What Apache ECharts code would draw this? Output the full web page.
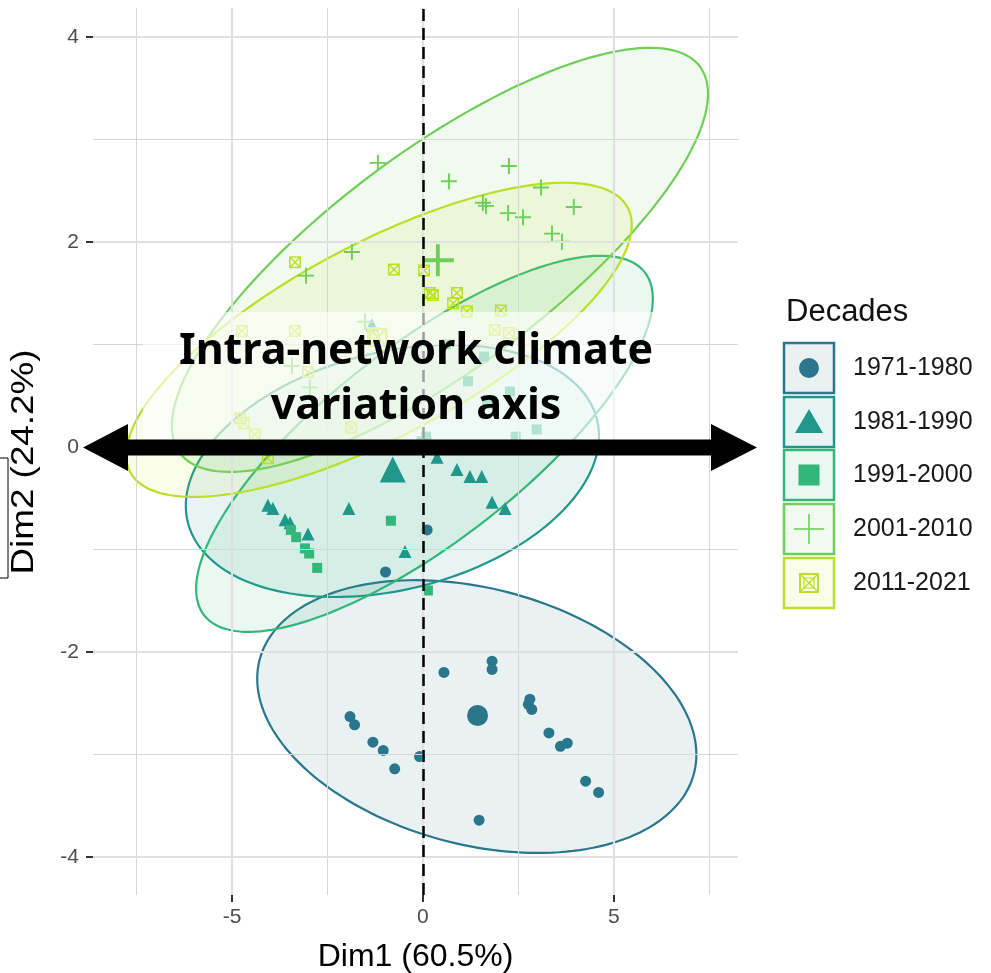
<!DOCTYPE html>
<html><head><meta charset="utf-8">
<script src="https://cdn.jsdelivr.net/npm/echarts@6/dist/echarts.min.js"></script>
<style>html,body{margin:0;padding:0;background:#fff}#c{width:991px;height:973px}</style>
</head><body><div id="c"></div>
<script>
// ---------- data ----------
const decades = ['1971-1980', '1981-1990', '1991-2000', '2001-2010', '2011-2021'];
const colors = ['#2A768C', '#1F978A', '#33B67A', '#6ECE58', '#BADF26'];

const x1971 = [-0.98, 0.11, 1.81, 1.81, 0.55, 2.80, 2.76, 2.85, -1.91, -1.79, -1.31, -1.04, -0.74, -0.09, 3.30, 3.60, 3.78, 4.26, 4.60, 1.47];
const y1971 = [-1.22, -0.81, -2.09, -2.17, -2.20, -2.46, -2.51, -2.56, -2.63, -2.71, -2.88, -2.96, -3.14, -3.02, -2.79, -2.92, -2.89, -3.26, -3.37, -3.64];

const x1981 = [-4.06, -3.93, -3.61, -3.48, -3.01, -1.94, -0.47, 0.37, 0.89, 1.23, 1.54, 1.81, 2.15, -1.34];
const y1981 = [-0.57, -0.60, -0.71, -0.74, -0.85, -0.60, -1.02, -0.10, -0.22, -0.29, -0.29, -0.54, -0.60, 1.19];

const x1991 = [-3.46, -3.32, -3.09, -2.98, -2.77, -0.84, 0.13, 0.60, 1.60, 1.18, 2.28, 1.68, 2.98, 2.43, 0.08];
const y1991 = [-0.81, -0.88, -0.99, -1.04, -1.18, -0.72, -1.40, 1.00, 0.88, 0.64, 0.54, 0.42, 0.17, 0.10, 0.10];

const x2001 = [-1.18, 0.68, 2.25, 3.09, 3.95, 1.57, 1.65, 2.23, 2.62, 3.38, 3.64, -1.86, -3.06, -1.52, -3.43, -2.96];
const y2001 = [2.77, 2.59, 2.74, 2.53, 2.34, 2.38, 2.35, 2.28, 2.24, 2.08, 2.00, 1.90, 1.67, 1.22, 0.79, 0.58];

const x2011 = [-3.35, -0.76, 0.03, 0.18, 0.26, 0.89, 0.79, 1.15, 2.04, 1.88, 2.25, -4.74, -3.35, -1.31, -3.01, -4.79, -4.69, -4.40, -4.06, -1.88];
const y2011 = [1.80, 1.73, 1.72, 1.50, 1.48, 1.50, 1.40, 1.32, 1.33, 1.14, 1.11, 1.13, 1.13, 1.11, 0.73, 0.28, 0.23, 0.12, -0.11, 0.19];

// group mean points (large markers)
const centroidX = [1.43, -0.79, 0.03, 0.39, -1.18];
const centroidY = [-2.62, -0.22, 0.03, 1.82, 1.07];

// confidence ellipses: centre, half-width (x), half-height (y), y-offset of the rightmost point
const ellCx = [1.41, -0.80, 0.04, 0.445, -1.152];
const ellCy = [-2.63, -0.234, 0.03, 1.824, 1.044];
const ellHalfW = [5.75, 5.41, 5.98, 7.02, 6.62];
const ellHalfH = [1.33, 1.23, 1.834, 2.068, 1.532];
const ellTilt = [-0.37, 0.34, 1.415, 1.62, 1.122];

const xTicks = [-5, 0, 5];
const xMinor = [-7.5, -2.5, 2.5, 7.5];
const yTicks = [-4, -2, 0, 2, 4];
const yMinor = [-3, -1, 1, 3];

const xTitle = 'Dim1 (60.5%)';
const yTitle = 'Dim2 (24.2%)';
const legendTitle = 'Decades';
const annotationLines = ['Intra-network climate', 'variation axis'];

// ---------- helpers ----------
function rgba(hex, a) {
  const n = parseInt(hex.slice(1), 16);
  return 'rgba(' + (n >> 16 & 255) + ',' + (n >> 8 & 255) + ',' + (n & 255) + ',' + a + ')';
}
function zip(xs, ys) { return xs.map((v, i) => [v, ys[i]]); }

const plusPath = 'path://M4.4,0 L5.6,0 L5.6,4.4 L10,4.4 L10,5.6 L5.6,5.6 L5.6,10 L4.4,10 L4.4,5.6 L0,5.6 L0,4.4 L4.4,4.4 Z';
const boxPath = 'path://M0,0 L12,0 L12,12 L0,12 Z M1.5,1.5 L1.5,10.5 L10.5,10.5 L10.5,1.5 Z ' +
  'M1.5,1.5 L2.5,1.5 L10.5,9.5 L10.5,10.5 L9.5,10.5 L1.5,2.5 Z ' +
  'M10.5,1.5 L10.5,2.5 L2.5,10.5 L1.5,10.5 L1.5,9.5 L9.5,1.5 Z';

const groupX = [x1971, x1981, x1991, x2001, x2011];
const groupY = [y1971, y1981, y1991, y2001, y2011];
const symbols = ['circle', 'triangle', 'rect', plusPath, boxPath];
const sizes = [11, 13, 10, 16, 12];
const bigSizes = [21, 26, 15, 32, 19];

const chart = echarts.init(document.getElementById('c'), null, { renderer: 'canvas' });

const series = [];
// grid lines
const gridMarks = [];
xMinor.forEach(v => gridMarks.push({ xAxis: v, lineStyle: { color: '#d6d6d6', width: 1, type: 'solid' } }));
yMinor.forEach(v => gridMarks.push({ yAxis: v, lineStyle: { color: '#d6d6d6', width: 1, type: 'solid' } }));
xTicks.forEach(v => gridMarks.push({ xAxis: v, lineStyle: { color: '#e0e0e0', width: 2.2, type: 'solid' } }));
yTicks.forEach(v => gridMarks.push({ yAxis: v, lineStyle: { color: '#e0e0e0', width: 2.2, type: 'solid' } }));
series.push({
  type: 'scatter', data: [], z: 0, silent: true,
  markLine: { symbol: ['none', 'none'], silent: true, animation: false, label: { show: false },
    lineStyle: { type: 'solid' }, emphasis: { disabled: true }, data: gridMarks }
});
// ellipses
for (let g = 0; g < 5; g++) {
  series.push({
    type: 'custom', z: 1, silent: true,
    data: [[ellCx[g], ellCy[g]]],
    renderItem: function (params, api) {
      const cx = api.value(0), cy = api.value(1);
      const W = ellHalfW[g], H = ellHalfH[g], c = ellTilt[g];
      const d = Math.sqrt(Math.max(H * H - c * c, 0));
      const pts = [];
      for (let k = 0; k < 180; k++) {
        const t = k / 180 * Math.PI * 2;
        pts.push(api.coord([cx + W * Math.cos(t), cy + c * Math.cos(t) + d * Math.sin(t)]));
      }
      return { type: 'polygon', shape: { points: pts },
        style: { fill: rgba(colors[g], 0.1), stroke: colors[g], lineWidth: 2.2 } };
    }
  });
}
// zero reference lines
series.push({
  type: 'scatter', data: [], z: 2, silent: true,
  markLine: { symbol: ['none', 'none'], silent: true, animation: false, label: { show: false },
    lineStyle: { color: '#000', width: 2.5, type: [12, 7] }, emphasis: { disabled: true },
    data: [{ xAxis: 0 }, { yAxis: 0 }] }
});
// points
for (let g = 0; g < 5; g++) {
  series.push({
    type: 'scatter', name: decades[g], z: 3, symbol: symbols[g], symbolSize: sizes[g],
    itemStyle: { color: colors[g], opacity: 1 },
    data: zip(groupX[g], groupY[g])
  });
  series.push({
    type: 'scatter', name: decades[g] + ' mean', z: 3, symbol: symbols[g], symbolSize: bigSizes[g],
    itemStyle: { color: colors[g], opacity: 1 },
    data: [[centroidX[g], centroidY[g]]]
  });
}

// ---------- overlay graphics ----------
const FONT = '"Liberation Sans", Arial, sans-serif';
const graphics = [];
graphics.push({ type: 'rect', z: 50, shape: { x: 143, y: 312, width: 512, height: 128 }, style: { fill: 'rgba(255,255,255,0.62)' } });
graphics.push({ type: 'polygon', z: 51, shape: { points: [[83, 447.5], [128, 424], [128, 439.5], [711, 439.5], [711, 424], [757, 447.5], [711, 471], [711, 455.5], [128, 455.5], [128, 471]] }, style: { fill: '#000' } });
graphics.push({ type: 'text', z: 52, x: 416, y: 352, style: { text: annotationLines[0], font: 'bold 43px "Noto Sans", "Open Sans", sans-serif', fill: '#000', textAlign: 'center', textVerticalAlign: 'middle' } });
graphics.push({ type: 'text', z: 52, x: 416, y: 407, style: { text: annotationLines[1], font: 'bold 43px "Noto Sans", "Open Sans", sans-serif', fill: '#000', textAlign: 'center', textVerticalAlign: 'middle' } });
graphics.push({ type: 'rect', z: 50, shape: { x: -6, y: 458, width: 14, height: 120 }, style: { fill: 'none', stroke: '#000', lineWidth: 1 } });
// y axis title (stretched along its reading direction like the source)
graphics.push({ type: 'text', z: 50, x: 24, y: 462, rotation: Math.PI / 2, scaleX: 1.15, scaleY: 1,
  style: { text: yTitle, font: '32px ' + FONT, fill: '#000', textAlign: 'center', textVerticalAlign: 'middle' } });

// legend
graphics.push({ type: 'text', z: 50, x: 786, y: 312, style: { text: legendTitle, font: '31px ' + FONT, fill: '#111', textVerticalAlign: 'middle' } });
const keyTop = [343, 397, 450, 504, 558];
for (let g = 0; g < 5; g++) {
  const y0 = keyTop[g], cx = 809, cy = y0 + 25;
  graphics.push({ type: 'rect', z: 50, shape: { x: 784, y: y0, width: 50, height: 50 }, style: { fill: rgba(colors[g], 0.1), stroke: colors[g], lineWidth: 2.5 } });
  if (g === 0) graphics.push({ type: 'circle', z: 51, shape: { cx: cx, cy: cy, r: 10 }, style: { fill: colors[g] } });
  if (g === 1) graphics.push({ type: 'polygon', z: 51, shape: { points: [[cx, cy - 13], [cx + 14, cy + 11], [cx - 14, cy + 11]] }, style: { fill: colors[g] } });
  if (g === 2) graphics.push({ type: 'rect', z: 51, shape: { x: cx - 10.5, y: cy - 10.5, width: 21, height: 21 }, style: { fill: colors[g] } });
  if (g === 3) {
    graphics.push({ type: 'line', z: 51, shape: { x1: cx - 15, y1: cy, x2: cx + 15, y2: cy }, style: { stroke: colors[g], lineWidth: 1.6 } });
    graphics.push({ type: 'line', z: 51, shape: { x1: cx, y1: cy - 15, x2: cx, y2: cy + 15 }, style: { stroke: colors[g], lineWidth: 1.6 } });
  }
  if (g === 4) {
    graphics.push({ type: 'rect', z: 51, shape: { x: cx - 9, y: cy - 9, width: 18, height: 18 }, style: { fill: 'none', stroke: colors[g], lineWidth: 2 } });
    graphics.push({ type: 'rect', z: 51, shape: { x: cx - 5, y: cy - 5, width: 10, height: 10 }, style: { fill: 'none', stroke: colors[g], lineWidth: 1.2 } });
    graphics.push({ type: 'line', z: 51, shape: { x1: cx - 9, y1: cy - 9, x2: cx + 9, y2: cy + 9 }, style: { stroke: colors[g], lineWidth: 1.4 } });
    graphics.push({ type: 'line', z: 51, shape: { x1: cx + 9, y1: cy - 9, x2: cx - 9, y2: cy + 9 }, style: { stroke: colors[g], lineWidth: 1.4 } });
  }
  graphics.push({ type: 'text', z: 50, x: 853, y: cy, style: { text: decades[g], font: '25px ' + FONT, fill: '#1a1a1a', textVerticalAlign: 'middle' } });
}

chart.setOption({
  animation: false,
  backgroundColor: '#fff',
  grid: { left: 93, right: 253, top: 8, bottom: 78, containLabel: false, outerBoundsMode: 'none' },
  xAxis: {
    type: 'value', min: -8.64, max: 8.25,
    name: xTitle, nameLocation: 'middle', nameGap: 46,
    nameTextStyle: { fontFamily: FONT, fontSize: 32, color: '#000' },
    axisLine: { show: true, onZero: false, lineStyle: { color: 'rgba(0,0,0,0)', width: 0 } },
    axisTick: { show: true, length: 7, customValues: xTicks, lineStyle: { color: '#333', width: 2 } },
    axisLabel: { customValues: xTicks, margin: 12, fontFamily: FONT, fontSize: 21, color: '#4d4d4d' },
    splitLine: { show: false }
  },
  yAxis: {
    type: 'value', min: -4.37, max: 4.28,
    axisLine: { show: true, onZero: false, lineStyle: { color: 'rgba(0,0,0,0)', width: 0 } },
    axisTick: { show: true, length: 7, customValues: yTicks, lineStyle: { color: '#333', width: 2 } },
    axisLabel: { customValues: yTicks, margin: 14, fontFamily: FONT, fontSize: 21, color: '#4d4d4d' },
    splitLine: { show: false }
  },
  series: series,
  graphic: { elements: graphics }
});
</script></body></html>
